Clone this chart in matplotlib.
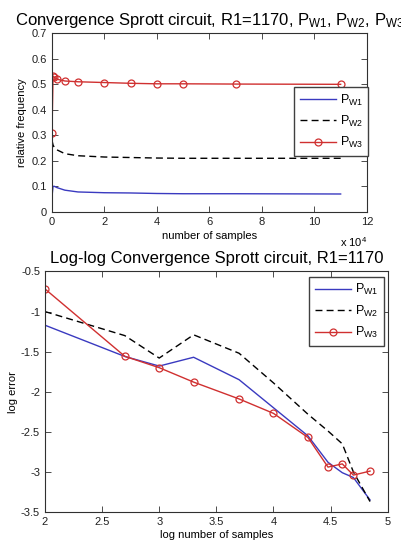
import matplotlib
matplotlib.use("Agg")
import matplotlib.pyplot as plt

plt.rcParams['font.family'] = ['Liberation Sans', 'DejaVu Sans']
plt.rcParams['mathtext.fontset'] = 'custom'
plt.rcParams['mathtext.rm'] = 'Liberation Sans'
plt.rcParams['mathtext.it'] = 'Liberation Sans'

# samples at which frequencies were recorded
n_samples = [100, 500, 1000, 2000, 5000, 10000, 20000, 30000, 40000, 50000, 70000, 110000]
p_w1 = [0.06, 0.10, 0.10, 0.095, 0.085, 0.078, 0.075, 0.074, 0.072, 0.071, 0.071, 0.070]
p_w2 = [0.28, 0.262, 0.252, 0.243, 0.228, 0.22, 0.215, 0.213, 0.211, 0.21, 0.21, 0.21]
p_w3 = [0.31, 0.533, 0.528, 0.52, 0.513, 0.51, 0.507, 0.504, 0.502, 0.502, 0.501, 0.50]

# log-log error
log_n = [2.0, 2.699, 3.0, 3.301, 3.699, 4.0, 4.301, 4.477, 4.602, 4.699, 4.845]
err_w1 = [-1.17, -1.56, -1.68, -1.57, -1.85, -2.20, -2.55, -2.88, -3.01, -3.07, -3.35]
err_w2 = [-1.00, -1.30, -1.58, -1.29, -1.52, -1.89, -2.28, -2.49, -2.65, -3.00, -3.37]
err_w3 = [-0.717, -1.558, -1.70, -1.88, -2.09, -2.27, -2.57, -2.94, -2.90, -3.04, -2.99]

labels = ['P$_{\\rm W1}$', 'P$_{\\rm W2}$', 'P$_{\\rm W3}$']
blue = '#3a3ac0'
red = '#d03030'

fig = plt.figure(figsize=(4.01, 5.46), dpi=100)

#위쪽 그래프
ax1 = fig.add_axes([0.129, 0.612, 0.786, 0.327])
ax1.plot(n_samples, p_w1, color=blue, lw=1.0, label=labels[0])
ax1.plot(n_samples, p_w2, color='k', lw=1.0, ls=(0, (5, 3)), label=labels[1])
ax1.plot(n_samples, p_w3, color=red, lw=1.0, marker='o', ms=5, mfc='none', mew=0.9, label=labels[2])
ax1.set_xlim(0, 120000)
ax1.set_ylim(0, 0.7)
ax1.set_xticks([i * 20000 for i in range(7)])
ax1.set_xticklabels([str(i * 2) for i in range(7)])
ax1.set_yticks([i / 10 for i in range(8)])
ax1.set_yticklabels(['0'] + ['%.1f' % (i / 10) for i in range(1, 8)])
ax1.set_xlabel('number of samples', fontsize=8, labelpad=3)
ax1.set_ylabel('relative frequency', fontsize=8, labelpad=3)
ax1.text(1.0, -0.13, 'x 10$^4$', transform=ax1.transAxes, fontsize=8, ha='right', va='top')
ax1.set_title('Convergence Sprott circuit, R1=1170, P$_{\\rm W1}$, P$_{\\rm W2}$, P$_{\\rm W3}$',
              fontsize=12, pad=6)
ax1.legend(loc='upper right', bbox_to_anchor=(1.005, 0.70), borderaxespad=0, fontsize=9,
           fancybox=False, edgecolor='#404040', framealpha=1, handlelength=2.9,
           handletextpad=0.3, labelspacing=0.5, borderpad=0.45)

#아래쪽 그래프
ax2 = fig.add_axes([0.112, 0.0623, 0.855, 0.4405])
ax2.plot(log_n, err_w1, color=blue, lw=1.0, label=labels[0])
ax2.plot(log_n, err_w2, color='k', lw=1.0, ls=(0, (5, 3)), label=labels[1])
ax2.plot(log_n, err_w3, color=red, lw=1.0, marker='o', ms=5, mfc='none', mew=0.9, label=labels[2])
ax2.set_xlim(2, 5)
ax2.set_ylim(-3.5, -0.5)
ax2.set_xticks([2, 2.5, 3, 3.5, 4, 4.5, 5])
ax2.set_xticklabels(['2', '2.5', '3', '3.5', '4', '4.5', '5'])
ax2.set_yticks([-3.5, -3, -2.5, -2, -1.5, -1, -0.5])
ax2.set_yticklabels(['-3.5', '-3', '-2.5', '-2', '-1.5', '-1', '-0.5'])
ax2.set_xlabel('log number of samples', fontsize=8, labelpad=2)
ax2.set_ylabel('log error', fontsize=8, labelpad=2)
ax2.set_title('Log-log Convergence Sprott circuit, R1=1170', fontsize=12, pad=6)
ax2.legend(loc='upper right', bbox_to_anchor=(0.988, 0.978), borderaxespad=0, fontsize=9,
           fancybox=False, edgecolor='#404040', framealpha=1, handlelength=2.9,
           handletextpad=0.3, labelspacing=0.5, borderpad=0.45)

for ax in (ax1, ax2):
    ax.tick_params(direction='in', length=4, width=0.6, labelsize=8, top=True, right=True,
                   colors='#303030', labelcolor='#202020')
    for s in ax.spines.values():
        s.set_linewidth(0.8)
        s.set_color('#303030')

plt.savefig('out.png', dpi=100)
